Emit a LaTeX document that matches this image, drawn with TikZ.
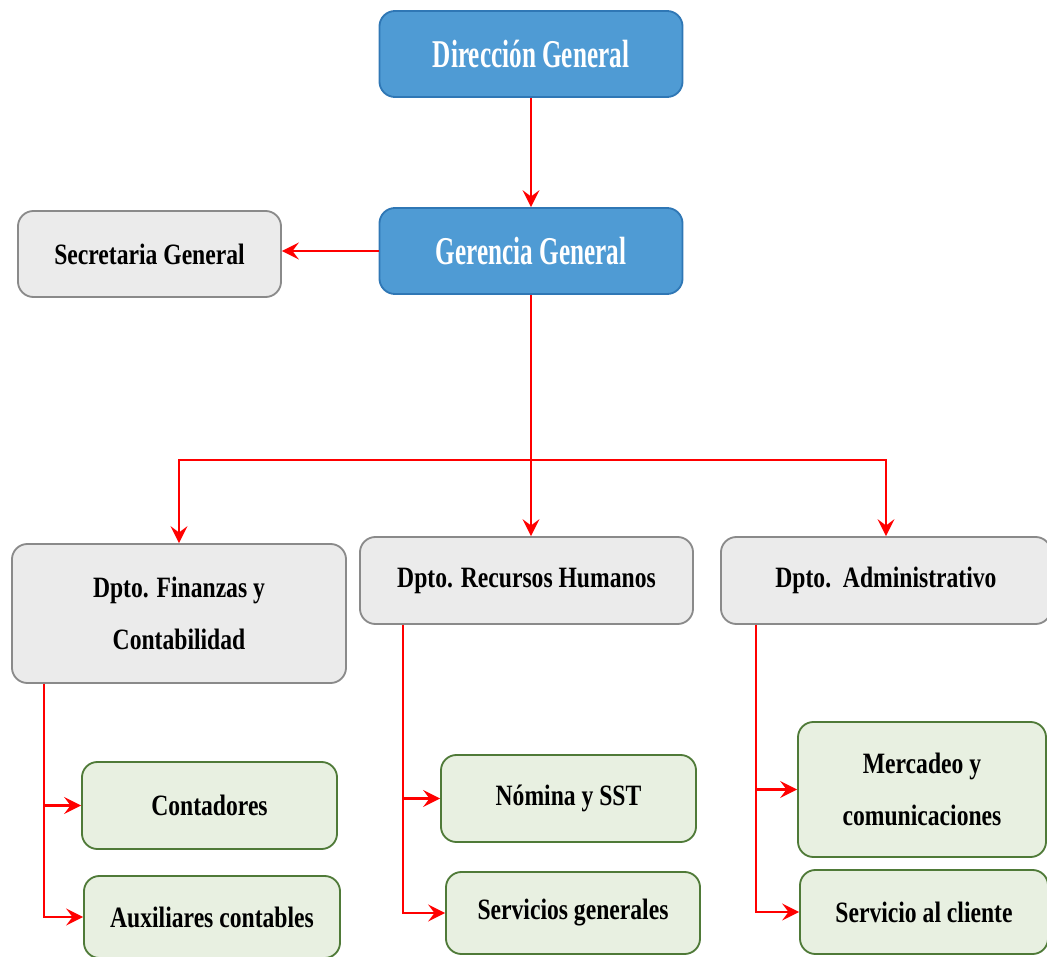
\documentclass[tikz,border=0pt]{standalone}
\usepackage{fontspec}
\setmainfont{Liberation Serif}
\newfontfamily\titlefont{Liberation Serif}[FakeStretch=0.64]
\newfontfamily\boxfont{Liberation Serif}[FakeStretch=0.8]
\usepackage{tikz}
\usetikzlibrary{arrows.meta,shapes}
\definecolor{boxblue}{HTML}{4F9BD4}
\definecolor{boxblueline}{HTML}{2F77B5}
\definecolor{boxgray}{HTML}{EBEBEB}
\definecolor{boxgrayline}{HTML}{8A8A8A}
\definecolor{boxgreen}{HTML}{E8F0E1}
\definecolor{boxgreenline}{HTML}{4F7A38}
\tikzstyle{orgbox}=[rectangle,rounded corners=11pt,align=center,inner sep=0pt,line width=1.3pt]
\tikzstyle{bluebox}=[orgbox,fill=boxblue,draw=boxblueline,text=white,font=\titlefont\bfseries\fontsize{28}{30}\selectfont]
\tikzstyle{graybox}=[orgbox,fill=boxgray,draw=boxgrayline,font=\boxfont\bfseries\fontsize{21}{37}\selectfont]
\tikzstyle{greenbox}=[orgbox,fill=boxgreen,draw=boxgreenline,font=\boxfont\bfseries\fontsize{21}{37}\selectfont]
\tikzstyle{edge} = [draw,red,line width=1.8pt,-{Stealth[length=12pt,width=12pt,inset=4.5pt]}]
\tikzstyle{plainedge} = [draw,red,line width=1.8pt]

\begin{document}
\begin{tikzpicture}[x=0.025cm,y=-0.025cm]
    \useasboundingbox (0,0) rectangle (1047,957);
    \clip (0,0) rectangle (1047,957);
    % First we draw the top boxes
    \foreach \pos/\name/\txt in {{(531,54)/dir/Dirección General},{(531,251)/ger/Gerencia General}}
        \node[bluebox,minimum width=7.575cm,minimum height=2.15cm] (\name) at \pos {\txt};

    % Secretaria and the departments
    \foreach \pos/\name/\bw/\bh/\txt in {{(149.5,254)/sec/6.575cm/2.15cm/Secretaria General},
        {(179,613.5)/fin/8.35cm/3.475cm/{Dpto. Finanzas y\\Contabilidad}},
        {(526.5,580.5)/rrhh/8.325cm/2.175cm/Dpto. Recursos Humanos},
        {(886,580.5)/adm/8.25cm/2.175cm/Dpto.\ \ Administrativo}}
        \node[graybox,minimum width=\bw,minimum height=\bh] (\name) at \pos {\txt};

    % Units under each department
    \foreach \pos/\name/\bw/\bh/\txt in {{(209.5,805.5)/cont/6.375cm/2.175cm/Contadores},
        {(212,917)/aux/6.4cm/2.05cm/Auxiliares contables},
        {(568.5,798.5)/nom/6.375cm/2.175cm/Nómina y SST},
        {(573,913)/serv/6.35cm/2.05cm/Servicios generales},
        {(922,789.5)/merc/6.2cm/3.375cm/{Mercadeo y\\comunicaciones}},
        {(924,912)/clie/6.2cm/2.1cm/Servicio al cliente}}
        \node[greenbox,minimum width=\bw,minimum height=\bh] (\name) at \pos {\txt};

    % Connect the boxes
    \path[edge] (dir) -- (ger);
    \path[edge] (ger.west) -- (ger.west -| sec.east);
    \coordinate (bar) at (531,460);
    \path[plainedge] (ger) -- (bar);
    \path[edge] (bar) -- (bar |- rrhh.north);
    \path[edge] (bar) -| (fin);
    \path[edge] (bar) -| (adm);

    \foreach \dept/\shift/\first/\second in {fin/0.825cm/cont/aux, rrhh/1.1cm/nom/serv, adm/0.9cm/merc/clie}
    {
        \path[edge] ([xshift=\shift]\dept.south west) |- (\first);
        \path[edge] ([xshift=\shift]\dept.south west) |- (\second);
    }
\end{tikzpicture}
\end{document}
